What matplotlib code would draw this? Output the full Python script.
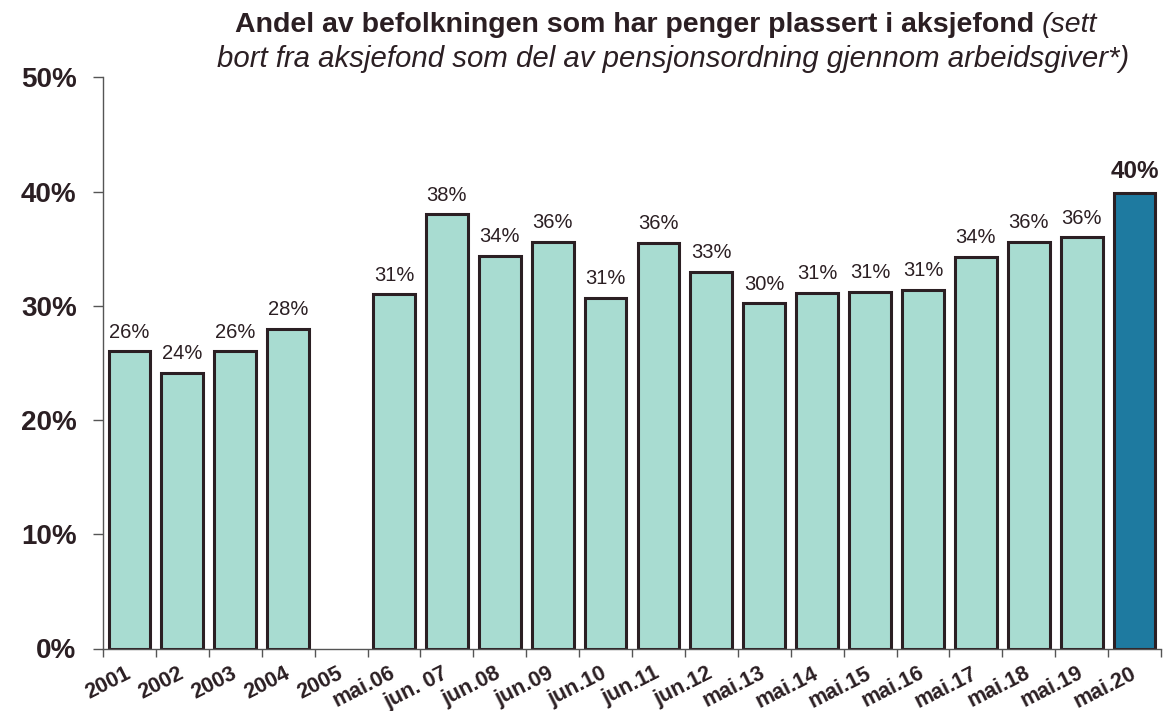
import numpy as np
import matplotlib
matplotlib.use("Agg")
import matplotlib.pyplot as plt

categories = ["2001", "2002", "2003", "2004", "2005", "mai.06", "jun. 07", "jun.08",
              "jun.09", "jun.10", "jun.11", "jun.12", "mai.13", "mai.14", "mai.15",
              "mai.16", "mai.17", "mai.18", "mai.19", "mai.20"]
values = [26.0, 24.1, 26.0, 28.0, np.nan, 31.0, 38.0, 34.4, 35.6, 30.7, 35.5, 33.0,
          30.2, 31.1, 31.2, 31.4, 34.3, 35.6, 36.0, 39.9]
yticks = [0, 10, 20, 30, 40, 50]

light = "#A8DCD1"
dark = "#1E7AA0"
ink = "#2B1F23"

plt.rcParams['font.family'] = ['Liberation Sans', 'DejaVu Sans']

W, H = 1167, 711
fig = plt.figure(figsize=(W / 100, H / 100), dpi=100)
ax = fig.add_axes([103 / W, (H - 648.5) / H, (1161 - 103) / W, (648.5 - 77.3) / H])

x = np.arange(len(categories))
colors = [light] * (len(categories) - 1) + [dark]
ax.bar(x, values, width=0.79, color=colors, edgecolor=ink, linewidth=2.2, zorder=2)

for i, v in enumerate(values):
    if np.isnan(v):
        continue
    last = i == len(values) - 1
    ax.annotate(f"{v:.0f}%", (i, v), xytext=(0, 7), textcoords="offset points",
                ha="center", va="bottom", color=ink,
                fontsize=17.5 if last else 14.5,
                fontweight="bold" if last else "normal")

ax.set_xlim(-0.5, len(categories) - 0.5)
ax.set_ylim(0, 50)
ax.set_yticks(yticks)
ax.set_yticklabels([f"{t}%" for t in yticks], fontsize=20, fontweight="bold", color=ink)
ax.tick_params(axis="y", direction="out", length=7, width=1, color="#555", pad=12)

ax.set_xticks(np.arange(-0.5, len(categories), 1.0))
ax.set_xticklabels([])
ax.tick_params(axis="x", direction="out", length=6, width=1, color="#555")
ax.set_xticks(x, minor=True)
ax.set_xticklabels(categories, minor=True, rotation=27, ha="right", va="center",
                   rotation_mode="anchor", fontsize=15.5, fontweight="bold", color=ink)
ax.tick_params(axis="x", which="minor", length=0, pad=17)

for s in ["top", "right"]:
    ax.spines[s].set_visible(False)
for s in ["left", "bottom"]:
    ax.spines[s].set_color("#555")
    ax.spines[s].set_linewidth(1)

# Title: bold part + italic part on line 1, italic line 2
fig.canvas.draw()
r = fig.canvas.get_renderer()
t1 = fig.text(0, 0, "Andel av befolkningen som har penger plassert i aksjefond ",
              fontsize=20.5, fontweight="bold", color=ink)
t2 = fig.text(0, 0, "(sett", fontsize=20.5, fontstyle="italic", color=ink)
w1 = t1.get_window_extent(r).width
w2 = t2.get_window_extent(r).width
cx = 666
x0 = cx - (w1 + w2) / 2
y1 = (H - 32) / H
t1.set_position((x0 / W, y1))
t2.set_position(((x0 + w1) / W, y1))
fig.text(673 / W, (H - 67) / H,
         "bort fra aksjefond som del av pensjonsordning gjennom arbeidsgiver*)",
         fontsize=21.2, fontstyle="italic", color=ink, ha="center")

fig.savefig("out.png", dpi=100)
